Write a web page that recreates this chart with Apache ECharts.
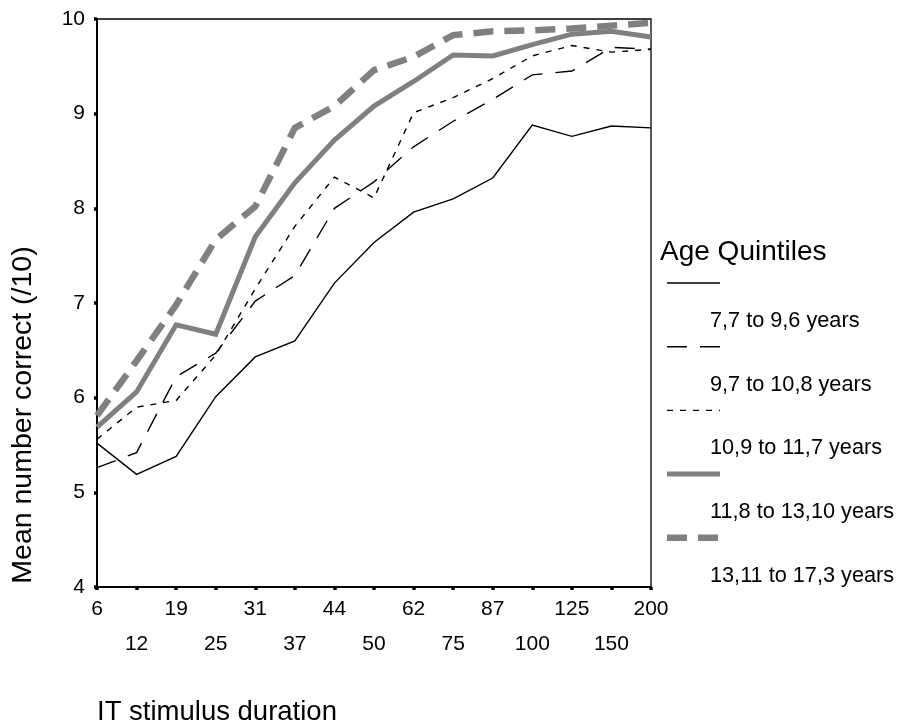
<!DOCTYPE html>
<html><head><meta charset="utf-8">
<script src="https://cdn.jsdelivr.net/npm/echarts@6/dist/echarts.min.js"></script>
<style>html,body{margin:0;padding:0;background:#fff}#c{width:901px;height:727px}</style>
</head><body><div id="c"></div>
<script>
// ---- data ----
const categories = ['6','12','19','25','31','37','44','50','62','75','87','100','125','150','200'];
const yTickMin = 4, yTickMax = 10, yTickStep = 1;
const seriesNames = ['7,7 to 9,6 years','9,7 to 10,8 years','10,9 to 11,7 years','11,8 to 13,10 years','13,11 to 17,3 years'];
const age1 = [5.52, 5.19, 5.38, 6.01, 6.43, 6.60, 7.21, 7.64, 7.96, 8.10, 8.32, 8.88, 8.76, 8.87, 8.85];
const age2 = [5.26, 5.42, 6.22, 6.47, 7.02, 7.29, 8.00, 8.28, 8.65, 8.92, 9.15, 9.41, 9.45, 9.70, 9.68];
const age3 = [5.56, 5.90, 5.97, 6.45, 7.15, 7.81, 8.33, 8.11, 9.01, 9.17, 9.37, 9.61, 9.72, 9.65, 9.68];
const age4 = [5.69, 6.06, 6.77, 6.67, 7.70, 8.27, 8.72, 9.08, 9.34, 9.62, 9.61, 9.73, 9.84, 9.87, 9.81];
const age5 = [5.81, 6.39, 6.98, 7.67, 8.02, 8.85, 9.08, 9.46, 9.60, 9.83, 9.87, 9.88, 9.90, 9.93, 9.96];
const legendTitle = 'Age Quintiles';
const xTitle = 'IT stimulus duration';
const yTitle = 'Mean number correct (/10)';

// ---- styles ----
const FONT = "'Liberation Sans', Arial, sans-serif";
const GREY = '#808080';
const styles = [
  {color:'#000', width:1.4, dash:null},
  {color:'#000', width:1.4, dash:[20,13]},
  {color:'#000', width:1.4, dash:[6,7]},
  {color:GREY, width:5, dash:null},
  {color:GREY, width:6.5, dash:[20,11]}
];
const seriesData = [age1, age2, age3, age4, age5];

const chart = echarts.init(document.getElementById('c'), null, {renderer:'canvas'});

const series = seriesData.map((d, i) => ({
  name: seriesNames[i], type:'line', data:d, symbol:'none', animation:false,
  lineStyle:{color:styles[i].color, width:styles[i].width, type: styles[i].dash || 'solid', cap:'butt', join:'miter'},
  itemStyle:{color:styles[i].color}
}));

// legend drawn as graphic
const legendX1 = 667, legendX2 = 720, lineY0 = 283, stepY = 63.7, textDy = 38, textX = 710;
const graphics = [
  {type:'text', x:660, y:252, style:{text:legendTitle, fontSize:28, fontFamily:FONT, fill:'#000', align:'left', verticalAlign:'middle'}},
  {type:'text', x:97, y:712, style:{text:xTitle, fontSize:27.5, fontFamily:FONT, fill:'#000', align:'left', verticalAlign:'middle'}},
  {type:'text', x:23, y:415, rotation:Math.PI/2, style:{text:yTitle, fontSize:28.5, fontFamily:FONT, fill:'#000', align:'center', verticalAlign:'middle'}}
];
seriesNames.forEach((n, i) => {
  const y = lineY0 + i*stepY;
  graphics.push({type:'line', shape:{x1:legendX1, y1:y, x2:legendX2, y2:y},
    style:{stroke:styles[i].color, lineWidth:styles[i].width, lineDash:styles[i].dash || null, lineCap:'butt'}});
  graphics.push({type:'text', x:textX, y:y+textDy, style:{text:n, fontSize:21.7, fontFamily:FONT, fill:'#000', align:'left', verticalAlign:'middle'}});
});

chart.setOption({
  animation:false,
  backgroundColor:'#fff',
  grid:{left:97, right:250, top:19, bottom:140, show:true, borderColor:'#000', borderWidth:1.3, backgroundColor:'transparent'},
  xAxis:{type:'category', data:categories, boundaryGap:false,
    axisLine:{lineStyle:{color:'#000', width:2}},
    axisTick:{show:true, alignWithLabel:true, interval:0, length:3, lineStyle:{color:'#000', width:3.5}},
    axisLabel:{interval:0, color:'#000', fontSize:21, fontFamily:FONT, margin:5, lineHeight:35,
      formatter:(v, i) => (i % 2 ? '\n' + v : v)},
    splitLine:{show:false}},
  yAxis:{type:'value', min:yTickMin, max:yTickMax, interval:yTickStep,
    axisLine:{show:true, lineStyle:{color:'#000', width:2}},
    axisTick:{show:true, length:3, lineStyle:{color:'#000', width:3.5}},
    axisLabel:{color:'#000', fontSize:21, fontFamily:FONT, margin:12},
    splitLine:{show:false}},
  series: series,
  graphic: graphics
});
</script></body></html>
